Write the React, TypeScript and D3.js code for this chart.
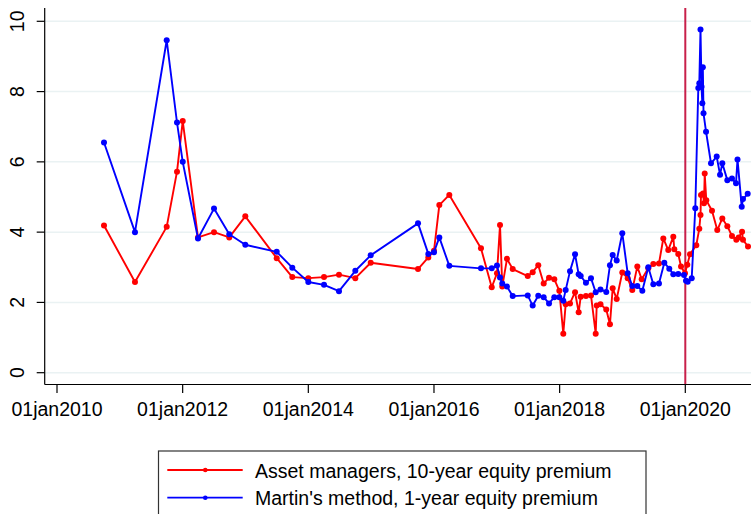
import React from "react";
import * as d3 from "d3";

// Decimal-year dates and values
const managersYears = [
  2010.748, 2011.241, 2011.746, 2011.91, 2012.001, 2012.244, 2012.499, 2012.742, 2012.997,
  2013.497, 2013.745, 2014.0, 2014.25, 2014.488, 2014.748, 2014.993, 2015.746, 2015.91,
  2016.0, 2016.085, 2016.244, 2016.748, 2016.919, 2017.003, 2017.051, 2017.087, 2017.162,
  2017.253, 2017.492, 2017.571, 2017.66, 2017.746, 2017.831, 2017.915, 2017.995, 2018.058,
  2018.096, 2018.165, 2018.245, 2018.303, 2018.335, 2018.419, 2018.499, 2018.574, 2018.59,
  2018.65, 2018.742, 2018.801, 2018.844, 2018.908, 2018.997, 2019.083, 2019.156, 2019.236,
  2019.306, 2019.411, 2019.491, 2019.581, 2019.65, 2019.729, 2019.809, 2019.825, 2019.888,
  2019.932, 2019.995, 2020.032, 2020.075, 2020.175, 2020.223, 2020.242, 2020.25, 2020.282,
  2020.298, 2020.309, 2020.334, 2020.425, 2020.509, 2020.589, 2020.669, 2020.743, 2020.812,
  2020.85, 2020.903, 2020.918, 2020.998,
];
const managersValues = [
  4.19, 2.58, 4.15, 5.72, 7.16, 3.85, 4.0, 3.85, 4.45,
  3.26, 2.72, 2.69, 2.72, 2.79, 2.69, 3.13, 2.95, 3.28,
  3.47, 4.77, 5.06, 3.54, 2.43, 2.83, 4.2, 2.45, 3.24,
  2.95, 2.75, 2.86, 3.06, 2.54, 2.7, 2.66, 2.33, 1.11,
  1.95, 1.97, 2.29, 1.72, 2.16, 2.18, 2.2, 1.11, 1.91,
  1.95, 1.8, 1.38, 2.4, 2.1, 2.85, 2.69, 2.35, 3.02,
  2.66, 2.97, 3.09, 3.11, 3.82, 3.49, 3.87, 3.51, 3.38,
  3.02, 2.83, 3.07, 3.37, 3.63, 4.1, 4.49, 5.06, 5.1,
  4.82, 5.67, 4.91, 4.61, 4.06, 4.39, 4.17, 3.89, 3.78,
  3.85, 4.01, 3.78, 3.59,
];

const martinYears = [
  2010.748, 2011.241, 2011.746, 2011.91, 2012.001, 2012.244, 2012.499, 2012.742, 2012.997,
  2013.497, 2013.745, 2014.0, 2014.25, 2014.488, 2014.748, 2014.993, 2015.746, 2015.91,
  2016.0, 2016.085, 2016.244, 2016.748, 2016.919, 2017.003, 2017.051, 2017.087, 2017.162,
  2017.253, 2017.492, 2017.571, 2017.66, 2017.746, 2017.831, 2017.915, 2017.995, 2018.058,
  2018.096, 2018.165, 2018.245, 2018.303, 2018.335, 2018.419, 2018.499, 2018.574, 2018.65,
  2018.742, 2018.801, 2018.844, 2018.908, 2018.997, 2019.083, 2019.156, 2019.236, 2019.316,
  2019.411, 2019.491, 2019.581, 2019.666, 2019.745, 2019.809, 2019.888, 2019.979, 2020.011,
  2020.038, 2020.102, 2020.159, 2020.207, 2020.223, 2020.242, 2020.258, 2020.271, 2020.279,
  2020.29, 2020.33, 2020.409, 2020.5, 2020.553, 2020.589, 2020.669, 2020.743, 2020.807,
  2020.831, 2020.898, 2020.918, 2020.993,
];
const martinValues = [
  6.55, 4.0, 9.46, 7.12, 6.0, 3.82, 4.67, 3.94, 3.64,
  3.44, 2.99, 2.58, 2.5, 2.32, 2.9, 3.34, 4.25, 3.38,
  3.43, 3.85, 3.04, 2.97, 2.97, 3.05, 2.71, 2.54, 2.45,
  2.18, 2.2, 1.91, 2.19, 2.15, 1.97, 2.15, 2.15, 2.05,
  2.35, 2.89, 3.37, 2.8, 2.75, 2.56, 2.69, 2.29, 2.37,
  2.3, 3.06, 3.35, 3.19, 3.97, 2.83, 2.47, 2.47, 2.33,
  3.0, 2.52, 2.54, 3.13, 2.96, 2.8, 2.81, 2.78, 2.62,
  2.59, 2.69, 4.68, 8.1, 8.24, 9.77, 8.14, 7.67, 8.69,
  7.38, 6.86, 5.96, 6.15, 5.63, 5.96, 5.48, 5.53, 5.39,
  6.07, 4.72, 4.94, 5.09,
];

const xTickYears = [2010, 2012, 2014, 2016, 2018, 2020];
const yTickValues = [0, 2, 4, 6, 8, 10];
const eventYear = 2020;
const legendLabels = [
  "Asset managers, 10-year equity premium",
  "Martin's method, 1-year equity premium",
];

const W = 751;
const H = 514;
const FONT = "'Liberation Sans', Arial, Helvetica, sans-serif";

export default function App() {
  const x = d3.scaleLinear().domain([2010, 2020]).range([57, 685.3]);
  const y = d3.scaleLinear().domain([0, 10]).range([372.7, 21.3]);
  const left = 44.7;
  const top = 8;
  const bottom = 384.5;
  const right = W;

  const series = [
    { years: managersYears, values: managersValues, color: "#ff0000" },
    { years: martinYears, values: martinValues, color: "#0000ff" },
  ];
  const line = d3
    .line<[number, number]>()
    .x((d) => x(d[0]))
    .y((d) => y(d[1]));

  return (
    <svg
      width={W}
      height={H}
      style={{ position: "absolute", left: 0, top: 0, display: "block", background: "#fff" }}
      fontFamily={FONT}
    >
      <rect x={0} y={0} width={W} height={H} fill="#fff" />
      {/* gridlines */}
      {yTickValues.map((v) => (
        <line key={"g" + v} x1={left} x2={right} y1={y(v)} y2={y(v)} stroke="#eaf2f3" strokeWidth={1.5} />
      ))}
      {/* vertical event line */}
      <line x1={x(eventYear)} x2={x(eventYear)} y1={top} y2={bottom} stroke="#c8204a" strokeWidth={2} />
      {/* series */}
      {series.map((s, i) => {
        const pts: [number, number][] = s.years.map((yr, j) => [yr, s.values[j]]);
        return (
          <g key={"s" + i}>
            <path d={line(pts) || ""} fill="none" stroke={s.color} strokeWidth={1.9} strokeLinejoin="round" />
            {pts.map((p, j) => (
              <circle key={j} cx={x(p[0])} cy={y(p[1])} r={3} fill={s.color} />
            ))}
          </g>
        );
      })}
      {/* axes */}
      <line x1={left} x2={left} y1={top} y2={bottom} stroke="#000" strokeWidth={1.2} />
      <line x1={left} x2={right} y1={bottom} y2={bottom} stroke="#000" strokeWidth={1.2} />
      {yTickValues.map((v) => (
        <g key={"yt" + v}>
          <line x1={left - 8} x2={left} y1={y(v)} y2={y(v)} stroke="#000" strokeWidth={1.2} />
          <text
            transform={`translate(${24},${y(v)}) rotate(-90)`}
            textAnchor="middle"
            fontSize={19.5}
            fill="#000"
          >
            {v}
          </text>
        </g>
      ))}
      {xTickYears.map((yr) => (
        <g key={"xt" + yr}>
          <line x1={x(yr)} x2={x(yr)} y1={bottom} y2={bottom + 8.5} stroke="#000" strokeWidth={1.2} />
          <text x={x(yr)} y={416} textAnchor="middle" fontSize={19.5} fill="#000">
            {`01jan${yr}`}
          </text>
        </g>
      ))}
      {/* legend */}
      <rect x={158.5} y={451} width={487.5} height={80} fill="#fff" stroke="#333" strokeWidth={1.2} />
      {legendLabels.map((lab, i) => {
        const ly = 470 + i * 27.7;
        const c = series[i].color;
        return (
          <g key={"l" + i}>
            <line x1={167.3} x2={242.7} y1={ly} y2={ly} stroke={c} strokeWidth={1.8} />
            <circle cx={205.3} cy={ly} r={2.3} fill={c} />
            <text x={255} y={ly + 7.5} fontSize={19.5} fill="#000">
              {lab}
            </text>
          </g>
        );
      })}
    </svg>
  );
}
